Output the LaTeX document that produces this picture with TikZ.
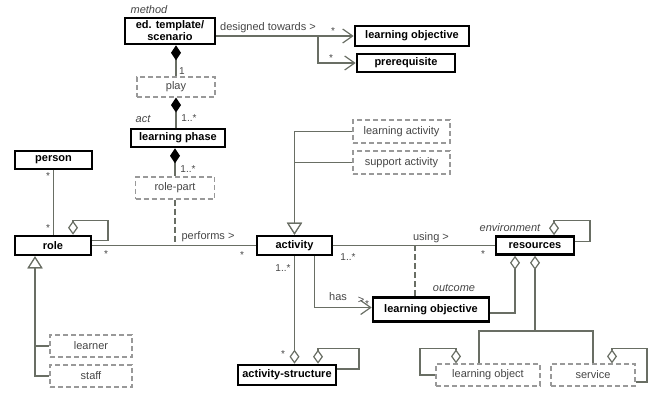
\documentclass[tikz,border=0pt]{standalone}
\usepackage{fontspec}
\setmainfont{Liberation Sans}
\usetikzlibrary{arrows.meta,calc}
\definecolor{linec}{RGB}{105,110,100}
\definecolor{txtc}{RGB}{70,70,70}
\begin{document}
\begin{tikzpicture}[x=1pt,y=-1pt,
 cls/.style={draw=black, line width=2.6pt, fill=white, inner sep=0pt, font=\fontsize{11}{12}\selectfont\bfseries, align=center},
 dcls/.style={draw=black!40, dash pattern=on 5pt off 3pt, line width=1.2pt, fill=white, inner sep=0pt, font=\fontsize{11}{12}\selectfont, text=txtc},
 conn/.style={draw=linec, line width=1.2pt},
 lbl/.style={font=\fontsize{11}{12}\selectfont, text=txtc, inner sep=0pt},
 mul/.style={font=\fontsize{10}{11}\selectfont, text=txtc, inner sep=0pt},
 ital/.style={font=\fontsize{11}{12}\selectfont\itshape, text=txtc, inner sep=0pt},
 comp/.style={conn, {Diamond[length=15pt,width=10pt,black]}-},
 agg/.style={conn, {Diamond[length=14pt,width=10pt,fill=white]}-},
 aggend/.style={conn, -{Diamond[length=14pt,width=10pt,fill=white]}},
 gen/.style={conn, -{Triangle[length=12pt,width=15pt,fill=white]}},
 nav/.style={conn, -{Straight Barb[length=10pt,width=14pt]}},
 assoc/.style={conn, dash pattern=on 6pt off 3pt},
]
\useasboundingbox (0,0) rectangle (654,393);

% nodes
\node[cls, minimum width=90pt, minimum height=26pt] (edt) at (170,31) {ed. template/\\scenario};
\node[cls, minimum width=114pt, minimum height=20pt] (lo1) at (412,36) {learning objective};
\node[cls, minimum width=98pt, minimum height=18pt] (pre) at (406,63) {prerequisite};
\node[dcls, minimum width=78pt, minimum height=20pt] (play) at (176,87) {play};
\node[cls, minimum width=94pt, minimum height=18pt] (lp) at (178,138) {learning phase};
\node[dcls, minimum width=79pt, minimum height=22pt] (rp) at (175,188) {role-part};
\node[cls, minimum width=77pt, minimum height=18pt] (person) at (53.5,160) {person};
\node[cls, minimum width=76pt, minimum height=19pt] (role) at (53,245.5) {role};
\node[cls, minimum width=75pt, minimum height=19pt] (act) at (294.5,245.5) {activity};
\node[dcls, minimum width=97pt, minimum height=23pt] (la) at (401.5,131.5) {learning activity};
\node[dcls, minimum width=97pt, minimum height=23pt] (sa) at (401.5,162.5) {support activity};
\node[cls, minimum width=78pt, minimum height=18pt] (res) at (535,245.5) {resources};
\node[cls, minimum width=116pt, minimum height=24pt] (lob) at (431,309.5) {learning objective};
\node[cls, minimum width=98pt, minimum height=20pt] (as) at (287,375) {activity-structure};
\node[dcls, minimum width=82pt, minimum height=22pt] (learner) at (91,346) {learner};
\node[dcls, minimum width=82pt, minimum height=22pt] (staff) at (91,376) {staff};
\node[dcls, minimum width=104pt, minimum height=22pt] (lo) at (488,375) {learning object};
\node[dcls, minimum width=84pt, minimum height=22pt] (sv) at (593,375) {service};

% top associations
\coordinate (br) at (318,36);
\draw[nav] (edt.east |- lo1.west) -- (lo1.west);
\draw[nav] (br) |- (pre.west);

% compositions
\draw[comp] (edt.south -| play.north) -- (play.north);
\draw[comp] (play.south) -- (play.south |- lp.north);
\draw[comp] (lp.south -| rp.north) -- (rp.north);
\draw[assoc] (rp.south) -- (rp.south |- role.east);

% person - role
\draw[conn] (person.south) -- (person.south |- role.north);
\draw[agg] ([xshift=20pt]role.north) -- ++(0,-14) -- ++(35,0) |- ([yshift=5pt]role.east);
\draw[conn] (role.east) -- (act.west);

% generalization to role
\coordinate (rolegen) at ([xshift=-18pt]role.south);
\draw[gen] (learner.west) -| (rolegen);
\draw[gen] (staff.west) -| (rolegen);

% generalization to activity
\draw[gen] (la.west) -| (act.north);
\draw[gen] (sa.west) -| (act.north);

% activity - resources
\draw[conn] (act.east) -- (res.west);
\coordinate (lobtop) at ([xshift=-16pt]lob.north);
\draw[assoc] (lobtop) -- (lobtop |- act.east);
\draw[nav] ([xshift=20pt]act.south) |- ([yshift=2pt]lob.west);
\draw[agg] ([xshift=-20pt]res.south) |- ([yshift=-3.5pt]lob.east);
\draw[agg] ([xshift=19pt]res.north) -- ++(0,-15) -- ++(36,0) |- ([yshift=4pt]res.east);

% resources - learning object / service
\coordinate (jn) at (535,331);
\coordinate (lotop) at ([xshift=-9pt]lo.north);
\draw[agg] (res.south) -- (jn);
\draw[conn] (lotop) |- (jn) -| (sv.north);
\draw[agg] ([xshift=-32pt]lo.north) -- ++(0,-15) -- ++(-36,0) |- (lo.west);
\draw[agg] ([xshift=19pt]sv.north) -- ++(0,-15) -- ++(35,0) |- ([yshift=-7pt]sv.east);

% activity - activity-structure
\draw[aggend] (act.south) -- (act.south |- as.north);
\draw[agg] ([xshift=31pt]as.north) -- ++(0,-15) -- ++(41,0) |- ([yshift=6pt]as.east);

% labels
\node[ital] (lmethod) at (149,10) {method};
\node[ital] (lact) at (143,119) {act};
\node[ital] (lenv) at (510,228) {environment};
\node[ital] (lout) at (454,288) {outcome};
\node[lbl] (ldes) at (268,28) {designed towards >};
\node[lbl] (lperf) at (208,237) {performs >};
\node[lbl] (lusing) at (431,238) {using >};
\node[lbl] (lhas) at (338,297) {has};
\node[lbl] (lhasdir) at (361,300) {>};
\node[mul] (m1) at (333,31) {*};
\node[mul] (m2) at (331,58) {*};
\node[mul] (m3) at (182,71) {1};
\node[mul] (m4) at (189,118) {1..*};
\node[mul] (m5) at (188,169) {1..*};
\node[mul] (m6) at (242,255) {*};
\node[mul] (m7) at (106,254) {*};
\node[mul] (m8) at (48,176) {*};
\node[mul] (m9) at (48,228) {*};
\node[mul] (m10) at (348,257) {1..*};
\node[mul] (m11) at (283,268) {1..*};
\node[mul] (m12) at (483,254) {*};
\node[mul] (m13) at (367,304) {*};
\node[mul] (m14) at (283,354) {*};
\end{tikzpicture}
\end{document}
